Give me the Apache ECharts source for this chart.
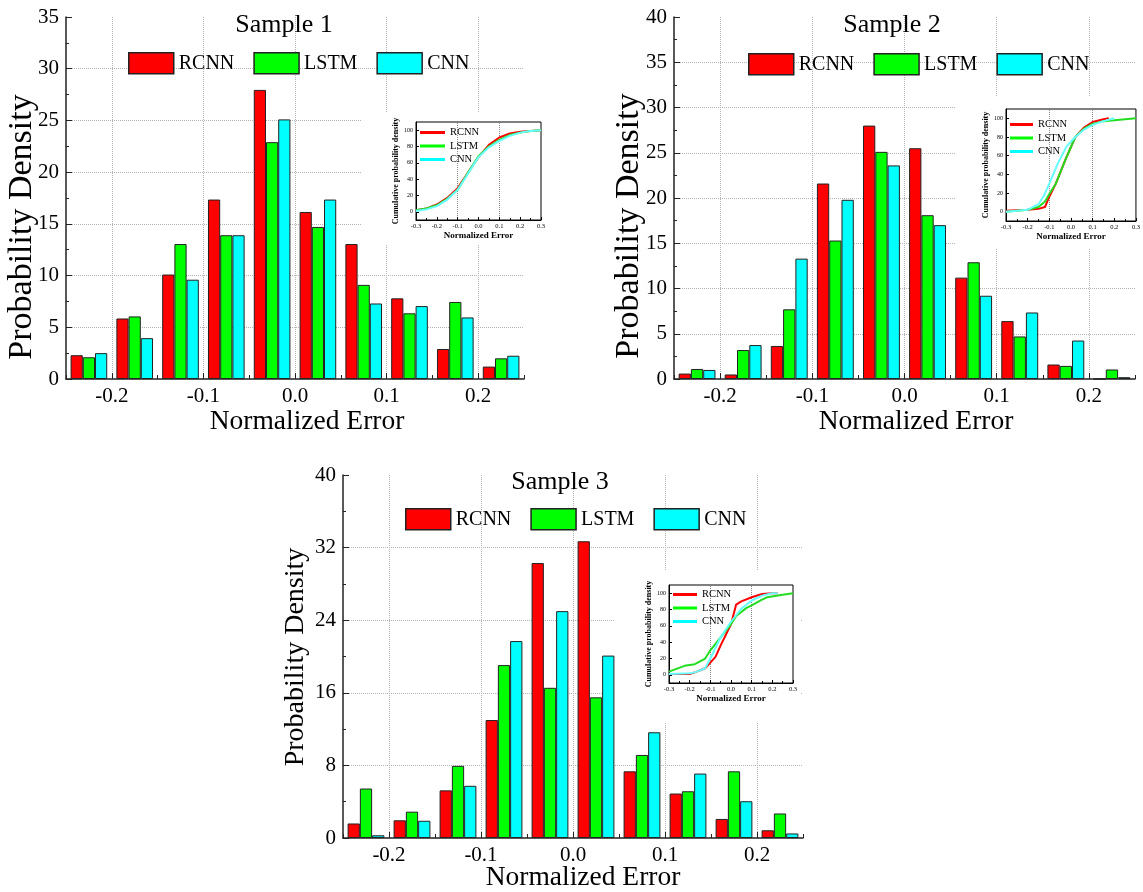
<!DOCTYPE html>
<html>
<head>
<meta charset="utf-8">
<script src="https://cdn.jsdelivr.net/npm/echarts@6/dist/echarts.min.js"></script>
<style>
  html, body { margin: 0; padding: 0; background: #fff; }
  #main { width: 1143px; height: 892px; }
</style>
</head>
<body>
<div id="main"></div>
<script>
// histogram bins (centre of each 0.05 wide bin)
const binCenters = [-0.225, -0.175, -0.125, -0.075, -0.025, 0.025, 0.075, 0.125, 0.175, 0.225]
const xTicks = [-0.2, -0.1, 0, 0.1, 0.2]
const seriesNames = ['RCNN', 'LSTM', 'CNN']

// Sample 1
const s1Rcnn = [2.3, 5.85, 10.1, 17.35, 27.95, 16.15, 13.05, 7.8, 2.9, 1.2]
const s1Lstm = [2.1, 6.05, 13.05, 13.9, 22.9, 14.7, 9.1, 6.35, 7.45, 2.0]
const s1Cnn = [2.5, 3.95, 9.6, 13.9, 25.1, 17.35, 7.3, 7.05, 5.95, 2.25]
// Sample 2
const s2Rcnn = [0.6, 0.5, 3.65, 21.6, 28.0, 25.5, 11.2, 6.4, 1.6, 0]
const s2Lstm = [1.1, 3.2, 7.7, 15.3, 25.1, 18.1, 12.9, 4.7, 1.45, 1.05]
const s2Cnn = [1.0, 3.75, 13.3, 19.8, 23.6, 17.0, 9.2, 7.35, 4.25, 0.2]
// Sample 3
const s3Rcnn = [1.6, 1.95, 5.25, 13.0, 30.3, 32.7, 7.35, 4.9, 2.1, 0.85]
const s3Lstm = [5.45, 2.9, 7.95, 19.05, 16.55, 15.5, 9.15, 5.15, 7.35, 2.7]
const s3Cnn = [0.3, 1.9, 5.75, 21.7, 25.0, 20.1, 11.65, 7.1, 4.05, 0.5]

// inset: cumulative probability density, [normalized error, %]
const c1Rcnn = [[-0.3, 2], [-0.25, 4], [-0.2, 9], [-0.15, 17], [-0.1, 29], [-0.05, 48], [0, 67], [0.05, 82], [0.1, 91], [0.15, 96], [0.2, 98], [0.25, 99], [0.3, 100]]
const c1Lstm = [[-0.3, 2], [-0.25, 4], [-0.2, 8], [-0.15, 16], [-0.1, 27], [-0.05, 48], [0, 68], [0.05, 80], [0.1, 88], [0.15, 94], [0.2, 97], [0.25, 99], [0.3, 100]]
const c1Cnn = [[-0.3, 1], [-0.25, 3], [-0.2, 7], [-0.15, 15], [-0.1, 27], [-0.05, 47], [0, 67], [0.05, 79], [0.1, 87], [0.15, 93], [0.2, 97], [0.25, 99], [0.3, 100]]

const c2Rcnn = [[-0.3, 1], [-0.2, 2], [-0.15, 3], [-0.12, 5], [-0.1, 16], [-0.07, 30], [-0.025, 56], [0.02, 80], [0.06, 90], [0.1, 96], [0.15, 99], [0.175, 100]]
const c2Lstm = [[-0.3, 0], [-0.25, 1], [-0.2, 2], [-0.15, 5], [-0.12, 11], [-0.1, 19], [-0.07, 30], [-0.025, 56], [0.02, 80], [0.06, 89], [0.1, 94], [0.15, 97], [0.2, 98], [0.3, 100]]
const c2Cnn = [[-0.3, 0], [-0.2, 2], [-0.15, 8], [-0.125, 17], [-0.1, 30], [-0.06, 52], [-0.02, 70], [0.02, 80], [0.06, 88], [0.1, 93], [0.15, 97], [0.2, 100]]

const c3Rcnn = [[-0.3, 1], [-0.2, 1], [-0.175, 3], [-0.125, 8], [-0.075, 22], [-0.05, 36], [0, 62], [0.025, 86], [0.05, 90], [0.1, 95], [0.15, 99], [0.2, 100], [0.225, 100]]
const c3Lstm = [[-0.3, 4], [-0.225, 11], [-0.175, 13], [-0.125, 20], [-0.1, 30], [-0.05, 46], [0, 62], [0.025, 72], [0.075, 82], [0.1, 85], [0.15, 92], [0.175, 95], [0.25, 98], [0.3, 100]]
const c3Cnn = [[-0.3, 1], [-0.2, 2], [-0.175, 3], [-0.125, 8], [-0.1, 20], [-0.05, 46], [0, 65], [0.05, 81], [0.1, 91], [0.15, 97], [0.2, 100], [0.225, 100]]

const insetYTicks = [0, 20, 40, 60, 80, 100]
const insetRefLines = [-0.1, 0.1]

const FONT = '"Liberation Serif", "Times New Roman", serif'
const barColors = ['#ff0000', '#00ff00', '#00ffff']
const lineColors = ['#ff0000', '#22dd22', '#66ffff']

// layout of the three panels (pixels)
const panels = [
  {
    title: 'Sample 1', titleX: 284, titleY: 25,
    grid: { left: 66, top: 17, width: 458, height: 362 },
    yMax: 35, yStep: 5,
    yName: { x: 22, y: 227, size: 34 }, xName: { x: 307, y: 422 },
    legend: { left: 128, top: 52 },
    bars: [s1Rcnn, s1Lstm, s1Cnn], cdf: [c1Rcnn, c1Lstm, c1Cnn],
    inset: { left: 416, top: 122, width: 125, height: 98 },
    insetLegend: { left: 420, top: 127, itemWidth: 25 },
    white: [362, 112, 183, 133]
  },
  {
    title: 'Sample 2', titleX: 892, titleY: 25,
    grid: { left: 674, top: 17, width: 461, height: 362 },
    yMax: 40, yStep: 5,
    yName: { x: 629, y: 226, size: 34 }, xName: { x: 916, y: 422 },
    legend: { left: 748, top: 53 },
    bars: [s2Rcnn, s2Lstm, s2Cnn], cdf: [c2Rcnn, c2Lstm, c2Cnn],
    inset: { left: 1006, top: 109, width: 135, height: 112 },
    insetLegend: { left: 1010, top: 119, itemWidth: 23 },
    white: [955, 96, 188, 152]
  },
  {
    title: 'Sample 3', titleX: 560, titleY: 482,
    grid: { left: 343, top: 475, width: 460, height: 363 },
    yMax: 40, yStep: 8,
    yName: { x: 296, y: 657, size: 28 }, xName: { x: 583, y: 878 },
    legend: { left: 405, top: 508 },
    bars: [s3Rcnn, s3Lstm, s3Cnn], cdf: [c3Rcnn, c3Lstm, c3Cnn],
    inset: { left: 669, top: 585, width: 124, height: 98 },
    insetLegend: { left: 673, top: 589, itemWidth: 24 },
    white: [615, 570, 185, 152]
  }
]

const grid = []
const xAxis = []
const yAxis = []
const series = []
const legend = []
const graphics = []

panels.forEach(function(p, k) {
  // 主图 + 小图
  grid.push(Object.assign({}, p.grid))
  grid.push(Object.assign({ show: true, backgroundColor: '#fff', borderColor: '#000', borderWidth: 1, z: 4 }, p.inset))

  // category axis that holds the bars (ticks at bin edges)
  xAxis.push({
    type: 'category', gridIndex: 2 * k, data: binCenters, boundaryGap: true, position: 'bottom',
    axisLine: { show: false, onZero: false },
    axisTick: { show: true, inside: true, length: 4, lineStyle: { color: '#222' } },
    axisLabel: { show: false },
    splitLine: { show: false }
  })
  // value axis with the labelled ticks
  xAxis.push({
    type: 'value', gridIndex: 2 * k, min: -0.25, max: 0.25, position: 'bottom',
    axisLine: { show: true, onZero: false, lineStyle: { color: '#222', width: 1.5 } },
    axisTick: { show: true, inside: true, length: 6, customValues: xTicks, lineStyle: { color: '#222' } },
    axisLabel: {
      customValues: xTicks, fontFamily: FONT, fontSize: 21, color: '#000', margin: 7,
      formatter: function(v) { return v.toFixed(1) }
    },
    splitLine: { show: true, lineStyle: { color: '#b4b4b4', type: 'dotted', width: 1 } }
  })
  // inset x axis
  xAxis.push({
    type: 'value', gridIndex: 2 * k + 1, min: -0.3, max: 0.3, interval: 0.1, z: 5,
    name: 'Normalized Error', nameLocation: 'middle', nameGap: 11,
    nameTextStyle: { fontFamily: FONT, fontSize: 9, fontWeight: 'bold', color: '#000' },
    axisLine: { show: true, onZero: false, lineStyle: { color: '#000', width: 1 } },
    axisTick: { show: true, inside: true, length: 3, lineStyle: { color: '#000' } },
    minorTick: { show: true, splitNumber: 2, length: 2, lineStyle: { color: '#000' } },
    axisLabel: {
      fontFamily: FONT, fontSize: 6.5, color: '#000', margin: 3,
      formatter: function(v) { return v.toFixed(1) }
    },
    splitLine: { show: false }
  })

  yAxis.push({
    type: 'value', gridIndex: 2 * k, min: 0, max: p.yMax, interval: p.yStep,
    axisLine: { show: true, onZero: false, lineStyle: { color: '#222', width: 1.5 } },
    axisTick: { show: true, inside: true, length: 6, lineStyle: { color: '#222' } },
    minorTick: { show: true, splitNumber: 2, length: 3, lineStyle: { color: '#222' } },
    axisLabel: { fontFamily: FONT, fontSize: 21, color: '#000', margin: 7 },
    splitLine: { show: true, showMinLine: false, showMaxLine: false, lineStyle: { color: '#b4b4b4', type: 'dotted', width: 1 } }
  })
  yAxis.push({
    type: 'value', gridIndex: 2 * k + 1, min: -10, max: 110, z: 5,
    name: 'Cumulative probability density', nameLocation: 'middle', nameGap: 13,
    nameTextStyle: { fontFamily: FONT, fontSize: 8, fontWeight: 'bold', color: '#000' },
    axisLine: { show: true, onZero: false, lineStyle: { color: '#000', width: 1 } },
    axisTick: { show: true, inside: true, length: 3, customValues: insetYTicks, lineStyle: { color: '#000' } },
    axisLabel: { customValues: insetYTicks, fontFamily: FONT, fontSize: 6, color: '#000', margin: 3 },
    splitLine: { show: false }
  })

  seriesNames.forEach(function(name, i) {
    series.push({
      type: 'bar', name: name, xAxisIndex: 3 * k, yAxisIndex: 2 * k,
      data: p.bars[i], barGap: '0%', barCategoryGap: '20%',
      itemStyle: { color: barColors[i], borderColor: '#222', borderWidth: 1 }
    })
  })
  seriesNames.forEach(function(name, i) {
    const s = {
      type: 'line', name: name, xAxisIndex: 3 * k + 2, yAxisIndex: 2 * k + 1, z: 6,
      data: p.cdf[i], symbol: 'none', smooth: false,
      lineStyle: { color: lineColors[i], width: 2 }, itemStyle: { color: lineColors[i] }
    }
    if (i === 0) {
      s.markLine = {
        silent: true, symbol: 'none', label: { show: false },
        lineStyle: { color: '#888', type: 'dotted', width: 1 },
        data: insetRefLines.map(function(v) { return { xAxis: v } })
      }
    }
    series.push(s)
  })

  // 图例
  legend.push({
    left: p.legend.left, top: p.legend.top, orient: 'horizontal', padding: 0,
    itemGap: 19, itemWidth: 45, itemHeight: 21, icon: 'rect', selectedMode: false,
    itemStyle: { borderColor: '#222', borderWidth: 1.5 },
    textStyle: { fontFamily: FONT, fontSize: 20, color: '#000' },
    data: seriesNames
  })
  legend.push({
    left: p.insetLegend.left, top: p.insetLegend.top, orient: 'vertical', padding: 0, z: 7,
    itemGap: 2.5, itemWidth: p.insetLegend.itemWidth, itemHeight: 3, icon: 'rect', selectedMode: false,
    itemStyle: { borderWidth: 0 },
    textStyle: { fontFamily: FONT, fontSize: 10.5, color: '#000' },
    data: seriesNames
  })

  graphics.push({
    type: 'rect', z: 3, silent: true,
    shape: { x: p.white[0], y: p.white[1], width: p.white[2], height: p.white[3] },
    style: { fill: '#fff' }
  })
  // titles and axis names
  graphics.push({
    type: 'text', x: p.titleX, y: p.titleY, z: 10,
    style: { text: p.title, fontFamily: FONT, fontSize: 26, fill: '#000', align: 'center', verticalAlign: 'middle' }
  })
  graphics.push({
    type: 'text', x: p.yName.x, y: p.yName.y, rotation: Math.PI / 2, z: 10,
    style: { text: 'Probability Density', fontFamily: FONT, fontSize: p.yName.size, fill: '#000', align: 'center', verticalAlign: 'middle' }
  })
  graphics.push({
    type: 'text', x: p.xName.x, y: p.xName.y, z: 10,
    style: { text: 'Normalized Error', fontFamily: FONT, fontSize: 27.5, fill: '#000', align: 'center', verticalAlign: 'middle' }
  })
})

const chart = echarts.init(document.getElementById('main'), null, { renderer: 'canvas' })
chart.setOption({
  backgroundColor: '#fff',
  animation: false,
  grid: grid,
  xAxis: xAxis,
  yAxis: yAxis,
  legend: legend,
  graphic: { elements: graphics },
  series: series
})
</script>
</body>
</html>
